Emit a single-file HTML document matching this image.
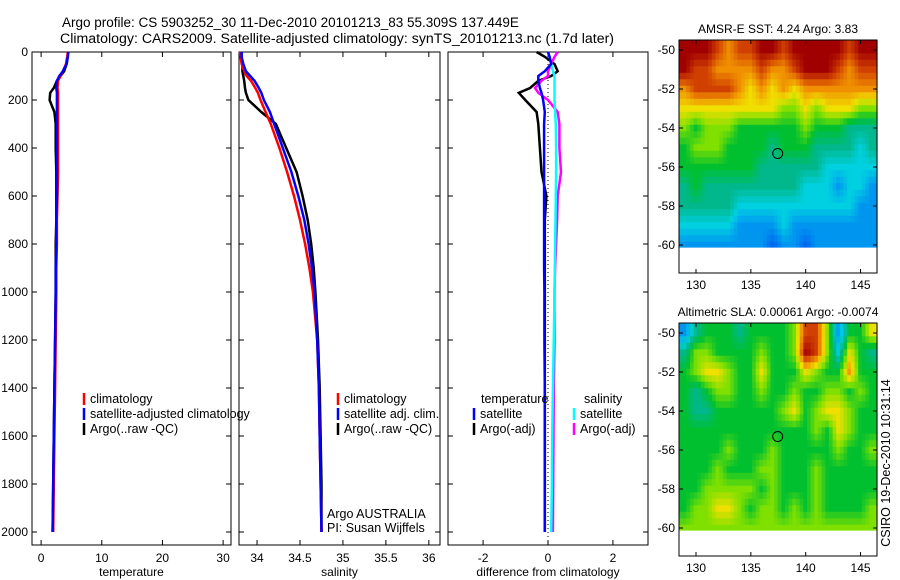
<!DOCTYPE html>
<html><head><meta charset="utf-8"><style>
html,body{margin:0;padding:0;background:#fff;}
svg{display:block;font-family:"Liberation Sans",sans-serif;}
</style></head><body>
<svg id="fig" width="900" height="580" viewBox="0 0 900 580" xmlns="http://www.w3.org/2000/svg">
<text x="62" y="27" font-size="13.5">Argo profile: CS 5903252_30 11-Dec-2010 20101213_83 55.309S 137.449E</text>
<text x="60" y="43" font-size="13.5" textLength="554" lengthAdjust="spacingAndGlyphs">Climatology: CARS2009. Satellite-adjusted climatology: synTS_20101213.nc (1.7d later)</text>
<text transform="translate(890,463) rotate(-90)" text-anchor="middle" font-size="12.5">CSIRO 19-Dec-2010 10:31:14</text>
</svg>
<script>
const depths=[0,20,50,80,100,120,150,170,200,250,300,400,500,600,700,800,900,1000,1200,1400,1600,1800,2000];
const tempClim=[4.4,4.3,4.1,3.6,3.2,2.8,2.7,2.8,2.8,2.8,2.8,2.8,2.8,2.7,2.6,2.6,2.5,2.5,2.4,2.3,2.2,2.1,2.0];
const tempSat=[4.5,4.4,4.2,3.6,3.0,2.6,2.5,2.6,2.6,2.6,2.6,2.6,2.6,2.6,2.5,2.5,2.4,2.4,2.3,2.2,2.1,2.0,1.9];
const tempArgo=[4.4,4.4,4.2,3.8,3.2,2.6,2.1,1.5,1.4,2.2,2.4,2.4,2.5,2.5,2.5,2.4,2.4,2.4,2.3,2.2,2.1,2.0,1.9];
const salClim=[33.80,33.81,33.82,33.85,33.88,33.93,33.98,34.01,34.04,34.10,34.16,34.26,34.35,34.43,34.50,34.56,34.61,34.65,34.70,34.72,34.73,34.74,34.75];
const salSat=[33.82,33.82,33.84,33.87,33.92,33.97,34.02,34.05,34.08,34.15,34.20,34.30,34.40,34.48,34.55,34.60,34.64,34.67,34.70,34.72,34.73,34.74,34.75];
const salArgo=[33.82,33.82,33.83,33.83,33.84,33.85,33.86,33.87,33.90,34.05,34.22,34.34,34.46,34.53,34.59,34.63,34.66,34.68,34.71,34.73,34.74,34.75,34.75];
const dTempSat=[0,0.05,0.1,-0.1,-0.3,-0.3,-0.25,-0.2,-0.15,-0.1,-0.12,-0.12,-0.12,-0.12,-0.12,-0.12,-0.12,-0.11,-0.11,-0.1,-0.1,-0.1,-0.1];
const dTempArgo=[-0.35,-0.1,0.2,0.3,0.1,-0.3,-0.55,-0.9,-0.7,-0.35,-0.3,-0.25,-0.2,-0.05,-0.1,-0.1,-0.1,-0.1,-0.1,-0.1,-0.1,-0.1,-0.1];
const dSalSat=[0,0.05,0.1,0.15,0.2,0.2,0.2,0.2,0.2,0.22,0.24,0.25,0.25,0.24,0.23,0.22,0.21,0.2,0.18,0.15,0.13,0.12,0.1];
const dSalArgo=[0.3,0.2,0.1,0.0,0.0,-0.2,-0.4,-0.3,0.0,0.3,0.35,0.35,0.4,0.3,0.28,0.25,0.22,0.2,0.2,0.18,0.17,0.16,0.15];
const depthTicks=[0,200,400,600,800,1000,1200,1400,1600,1800,2000];
const tempTicks=[0,10,20,30];
const salTicks=[34,34.5,35,35.5,36];
const salTickLabels=["34","34.5","35","35.5","36"];
const diffTicks=[-2,0,2];
const lonTicks=[130,135,140,145];
const latTicks=[-50,-52,-54,-56,-58,-60];
const sstGrid=[
[10,10,10,9,8,9,9,10,10,9,10,10,10,10,10,9,10,10],
[10,9,9,8,8,8,8,9,8,8,9,10,10,10,9,8,9,9],
[8,9,9,9,9,8,7,8,7,8,7,8,8,8,8,8,8,8],
[7,7,7,7,7,7,7,7,7,6,6,7,6,7,7,7,6,6],
[6,5,6,6,6,5,5,5,5,5,5,6,5,5,5,4,4,4],
[5,6,6,6,5,5,5,5,4,5,5,5,4,4,4,4,3,4],
[5,5,5,5,5,5,5,4,4,4,4,4,4,3,3,3,3,3],
[4,5,4,4,4,4,4,4,4,4,4,3,3,3,2,3,3,2],
[4,4,4,4,4,3,3,3,3,3,3,3,3,3,3,3,2,2],
[3,3,3,3,3,2,2,2,2,3,2,2,2,2,2,2,2,2],
[2,2,2,2,2,2,2,2,1,2,2,1,2,2,2,2,2,2]];
const slaGrid=[
[2,4,5,5,5,4,5,5,5,5,6,9,9,6,2,5,5,7],
[4,6,6,5,5,5,5,6,5,5,6,10,9,6,3,7,5,4],
[5,6,7,7,6,5,5,7,5,5,5,7,6,5,5,8,5,5],
[5,4,5,6,6,5,5,6,5,5,6,5,5,6,6,5,6,5],
[5,4,4,5,5,5,5,5,5,6,7,5,6,7,7,6,5,5],
[5,5,5,5,5,5,5,5,5,5,5,5,6,5,7,6,5,5],
[5,5,5,5,6,5,5,5,6,5,5,5,5,5,6,5,5,6],
[5,5,5,6,5,5,5,6,6,5,5,5,6,5,5,5,5,5],
[5,5,6,6,6,6,6,5,6,5,5,5,6,5,5,5,5,5],
[5,6,6,7,7,6,5,6,6,5,6,5,6,5,5,5,5,6],
[6,6,6,6,6,6,6,6,6,6,6,6,6,6,6,6,6,6]];
const profileLon=137.449, profileLat=-55.309;

const stops=[[0,48,224],[0,100,240],[0,150,240],[0,208,224],[0,184,140],[0,192,48],[128,224,0],[240,224,0],[240,144,0],[208,64,0],[160,0,0]];
function cmap(v){v=Math.max(0,Math.min(10,v));const i=Math.min(9,Math.floor(v)),f=v-i;
  const a=stops[i],b=stops[i+1];return 'rgb('+a.map((c,k)=>Math.round(c+(b[k]-c)*f)).join(',')+')';}
const NS="http://www.w3.org/2000/svg";
const svg=document.getElementById('fig');
function el(tag,a,parent){const e=document.createElementNS(NS,tag);for(const k in a)e.setAttribute(k,a[k]);(parent||svg).appendChild(e);return e;}
function txt(s,a){const t=el('text',a);t.textContent=s;return t;}

const yTop=52, yBot=545;
const yD=d=>yTop+(d/2000)*480;
const panels=[
 {x0:32,x1:231,v0:-1.5,v1:31.3,name:'temperature'},
 {x0:239,x1:440,v0:33.79,v1:36.13,name:'salinity'},
 {x0:448,x1:648,v0:-3.08,v1:3.08,name:'difference'}];
panels.forEach(p=>{p.sx=v=>p.x0+(v-p.v0)/(p.v1-p.v0)*(p.x1-p.x0);});

function profile(p,vals,color,name,w){
  const pts=vals.map((v,i)=>p.sx(v).toFixed(1)+','+yD(depths[i]).toFixed(1)).join(' ');
  const l=el('polyline',{points:pts,fill:'none',stroke:color,'stroke-width':w||2.5});
  
  
}
function frame(p,ticks,labels,title,leftLabels){
  const r=el('rect',{x:p.x0,y:yTop,width:p.x1-p.x0,height:yBot-yTop,fill:'none',stroke:'#000','stroke-width':1});
  
  
  ticks.forEach((v,i)=>{
    const x=p.sx(v);
    el('line',{x1:x,x2:x,y1:yBot,y2:yBot-5,stroke:'#000'});
    el('line',{x1:x,x2:x,y1:yTop,y2:yTop+5,stroke:'#000'});
    const t=txt(labels[i],{x:x,y:562,'text-anchor':'middle','font-size':12});
    
    
  });
  depthTicks.forEach(d=>{
    const y=yD(d);
    el('line',{x1:p.x0,x2:p.x0+5,y1:y,y2:y,stroke:'#000'});
    el('line',{x1:p.x1,x2:p.x1-5,y1:y,y2:y,stroke:'#000'});
    if(leftLabels){const t=txt(String(d),{x:p.x0-4,y:y+4,'text-anchor':'end','font-size':12});
      
      }
  });
  const at=txt(title,{x:(p.x0+p.x1)/2,y:576,'text-anchor':'middle','font-size':12});
  
  
}
frame(panels[0],tempTicks,tempTicks.map(String),'temperature',true);
frame(panels[1],salTicks,salTickLabels,'salinity',false);
frame(panels[2],diffTicks,diffTicks.map(String),'difference from climatology',false);
const z=el('line',{x1:panels[2].sx(0),x2:panels[2].sx(0),y1:yTop,y2:yBot,stroke:'#000','stroke-dasharray':'1,3'});



profile(panels[0],tempArgo,'#000','temp-argo-line');
profile(panels[0],tempClim,'#f00','temp-climatology-line');
profile(panels[0],tempSat,'#00f','temp-satellite-line');
profile(panels[1],salArgo,'#000','sal-argo-line');
profile(panels[1],salClim,'#f00','sal-climatology-line');
profile(panels[1],salSat,'#00f','sal-satellite-line');
profile(panels[2],dTempArgo,'#000','diff-temp-argo-line');
profile(panels[2],dSalArgo,'#f0f','diff-sal-argo-line');
profile(panels[2],dSalSat,'#0ff','diff-sal-satellite-line');
profile(panels[2],dTempSat,'#00f','diff-temp-satellite-line');

function legend(x,y,color,label,name){
  const m=el('line',{x1:x,x2:x,y1:y-10,y2:y+2,stroke:color,'stroke-width':2.5});
  
  
  const t=txt(label,{x:x+6,y:y,'font-size':12.5});
  
  
}
legend(84,403,'#f00','climatology','legend-entry-temp-clim');
legend(84,418,'#00f','satellite-adjusted climatology','legend-entry-temp-sat');
legend(84,433,'#000','Argo(..raw -QC)','legend-entry-temp-argo');
legend(338,403,'#f00','climatology','legend-entry-sal-clim');
legend(338,418,'#00f','satellite adj. clim.','legend-entry-sal-sat');
legend(338,433,'#000','Argo(..raw -QC)','legend-entry-sal-argo');
let h=txt('temperature',{x:481,y:403,'font-size':12.5});


h=txt('salinity',{x:584,y:403,'font-size':12.5});


legend(474,418,'#00f','satellite','legend-entry-diff-temp-sat');
legend(474,433,'#000','Argo(-adj)','legend-entry-diff-temp-argo');
legend(574,418,'#0ff','satellite','legend-entry-diff-sal-sat');
legend(574,433,'#f0f','Argo(-adj)','legend-entry-diff-sal-argo');
h=txt('Argo AUSTRALIA',{x:327,y:518,'font-size':12.5});


h=txt('PI: Susan Wijffels',{x:327,y:532,'font-size':12.5});



function sample(grid,r,c){
  const R=grid.length,C=grid[0].length;
  r=Math.max(0,Math.min(R-1,r));c=Math.max(0,Math.min(C-1,c));
  const r0=Math.floor(r),c0=Math.floor(c),r1=Math.min(R-1,r0+1),c1=Math.min(C-1,c0+1),fr=r-r0,fc=c-c0;
  return grid[r0][c0]*(1-fr)*(1-fc)+grid[r0][c1]*(1-fr)*fc+grid[r1][c0]*fr*(1-fc)+grid[r1][c1]*fr*fc;
}
function map(y0,grid,title,name){
  const x0=679,x1=877,y1=y0+233;
  const lonMin=128.45,lonMax=146.5;
  const sx=l=>x0+(l-lonMin)/(lonMax-lonMin)*(x1-x0);
  const sy=la=>y0+10+(-50-la)*19.5;
  const step=1/3;
  for(let lat=-49.5;lat>-60.1-1e-6;lat-=step){
    for(let lon=lonMin;lon<lonMax-1e-6;lon+=step){
      const v=sample(grid,-50-(lat-step/2),(lon+step/2)-129);
      const xa=sx(lon), xb=Math.min(x1,sx(lon+step));
      const ya=Math.max(y0,sy(lat)), yb=Math.min(sy(-60.1),sy(lat-step));
      if(yb<=ya) continue;
      const cell=el('rect',{x:xa.toFixed(1),y:ya.toFixed(1),width:(xb-xa+0.6).toFixed(1),height:(yb-ya+0.6).toFixed(1),fill:cmap(v)});
      
      
    }
  }
  const f=el('rect',{x:x0,y:y0,width:x1-x0,height:y1-y0,fill:'none',stroke:'#000'});
  
  
  lonTicks.forEach(l=>{const x=sx(l);
    el('line',{x1:x,x2:x,y1:y1,y2:y1-4,stroke:'#000'});el('line',{x1:x,x2:x,y1:y0,y2:y0+4,stroke:'#000'});
    const t=txt(String(l),{x:x,y:y1+16,'text-anchor':'middle','font-size':12});
    
    });
  latTicks.forEach(la=>{const y=sy(la);
    el('line',{x1:x0,x2:x0+4,y1:y,y2:y,stroke:'#000'});el('line',{x1:x1,x2:x1-4,y1:y,y2:y,stroke:'#000'});
    const t=txt(String(la),{x:x0-4,y:y+4,'text-anchor':'end','font-size':12});
    
    });
  const c=el('circle',{cx:sx(profileLon),cy:sy(profileLat),r:5,fill:'none',stroke:'#000'});
  
  
  const t=txt(title,{x:(x0+x1)/2,y:y0-7,'text-anchor':'middle','font-size':12});
  
  
}
map(40,sstGrid,'AMSR-E SST: 4.24  Argo: 3.83','sst-map');
map(323,slaGrid,'Altimetric SLA: 0.00061  Argo: -0.0074','sla-map');
</script>
</body></html>
